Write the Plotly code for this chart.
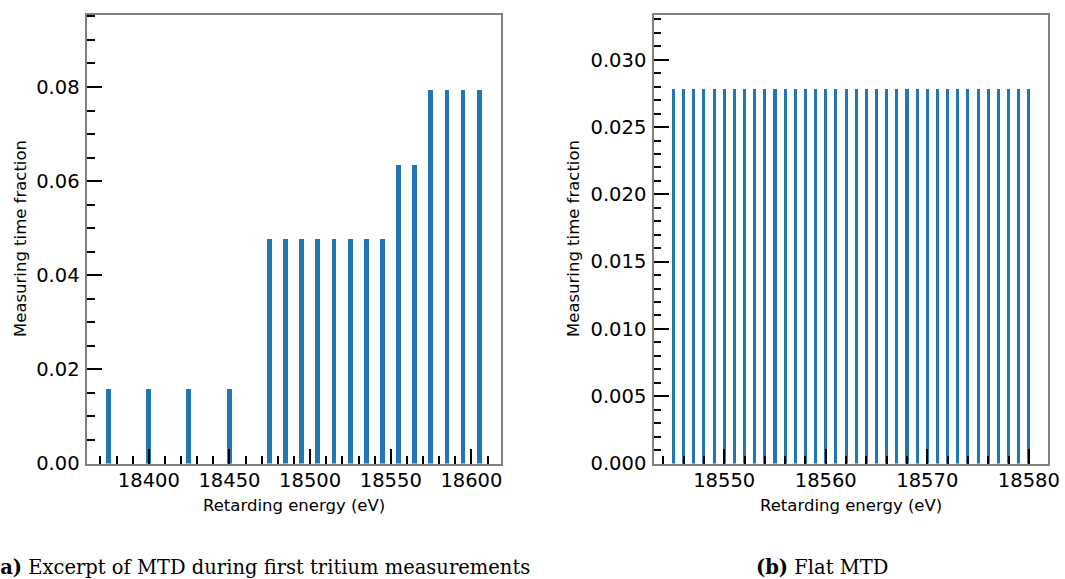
import plotly.graph_objects as go

# Measuring time distribution (MTD) data
mtd_a_energy = [18375, 18400, 18425, 18450,
                18475, 18485, 18495, 18505, 18515, 18525, 18535, 18545,
                18555, 18565,
                18575, 18585, 18595, 18605]
mtd_a_fraction = [0.0159, 0.0159, 0.0159, 0.0159,
                  0.0476, 0.0476, 0.0476, 0.0476, 0.0476, 0.0476, 0.0476, 0.0476,
                  0.0635, 0.0635,
                  0.0794, 0.0794, 0.0794, 0.0794]

mtd_b_energy = list(range(18545, 18581))
mtd_b_fraction = [0.0278] * len(mtd_b_energy)

W, H = 1065, 579
BLUE = "#1f77b4"
FRAME = "#808080"
TICK_FONT = dict(family="DejaVu Sans", size=19.5, color="black")
TITLE_FONT = dict(family="DejaVu Sans", size=16.5, color="black")
CAP_FONT = dict(family="DejaVu Serif", size=19.5, color="black")


def px_x(p):
    return p / W


def px_y(p):
    return 1 - p / H


fig = go.Figure()
fig.add_trace(go.Bar(x=mtd_a_energy, y=mtd_a_fraction, width=3,
                     marker=dict(color=BLUE, line=dict(width=0)),
                     xaxis="x", yaxis="y", showlegend=False))
fig.add_trace(go.Bar(x=mtd_b_energy, y=mtd_b_fraction, width=0.3,
                     marker=dict(color=BLUE, line=dict(width=0)),
                     xaxis="x2", yaxis="y2", showlegend=False))

y_dom = [px_y(463.5), px_y(15)]

common = dict(showline=True, linecolor=FRAME, linewidth=1.6, mirror=True,
              ticks="inside", tickcolor="black", tickwidth=1.5, ticklen=15,
              showgrid=False, zeroline=False, tickfont=TICK_FONT,
              automargin=False)

fig.update_layout(
    width=W, height=H,
    margin=dict(l=0, r=0, t=0, b=0),
    paper_bgcolor="white", plot_bgcolor="white",
    bargap=0,
    xaxis=dict(domain=[px_x(87.3), px_x(500.7)], anchor="y",
               range=[18361.85, 18618.15], tick0=18400, dtick=50,
               tickformat="d",
               minor=dict(ticks="inside", ticklen=7.5, tickwidth=1.5,
                          tickcolor="black", dtick=10, showgrid=False),
               ticklabelstandoff=-2, **common),
    yaxis=dict(domain=y_dom, anchor="x",
               range=[0, 0.0953], tick0=0, dtick=0.02, tickformat=".2f",
               minor=dict(ticks="inside", ticklen=7.5, tickwidth=1.5,
                          tickcolor="black", dtick=0.005, showgrid=False),
               ticklabelstandoff=2, **common),
    xaxis2=dict(domain=[px_x(654), px_x(1048.3)], anchor="y2",
                range=[18543.085, 18581.915], tick0=18550, dtick=10,
                tickformat="d",
                minor=dict(ticks="inside", ticklen=7.5, tickwidth=1.5,
                           tickcolor="black", dtick=2, showgrid=False),
                ticklabelstandoff=-2, **common),
    yaxis2=dict(domain=y_dom, anchor="x2",
                range=[0, 0.03333], tick0=0, dtick=0.005, tickformat=".3f",
                minor=dict(ticks="inside", ticklen=7.5, tickwidth=1.5,
                           tickcolor="black", dtick=0.001, showgrid=False),
                ticklabelstandoff=2, **common),
)

annotations = [
    # axis titles
    dict(text="Retarding energy (eV)", x=px_x(294), y=px_y(505),
         xanchor="center", yanchor="middle", font=TITLE_FONT),
    dict(text="Retarding energy (eV)", x=px_x(851), y=px_y(505),
         xanchor="center", yanchor="middle", font=TITLE_FONT),
    dict(text="Measuring time fraction", x=px_x(20), y=px_y(239),
         xanchor="center", yanchor="middle", textangle=-90, font=TITLE_FONT),
    dict(text="Measuring time fraction", x=px_x(573), y=px_y(239),
         xanchor="center", yanchor="middle", textangle=-90, font=TITLE_FONT),
    # sub-figure captions
    dict(text="<b>(a)</b> Excerpt of MTD during first tritium measurements",
         x=px_x(531.7), y=px_y(567), xanchor="right", yanchor="middle",
         font=CAP_FONT),
    dict(text="<b>(b)</b> Flat MTD", x=px_x(822), y=px_y(567),
         xanchor="center", yanchor="middle", font=CAP_FONT),
]
for a in annotations:
    fig.add_annotation(xref="paper", yref="paper", showarrow=False, **a)

fig.write_html("out.html")
